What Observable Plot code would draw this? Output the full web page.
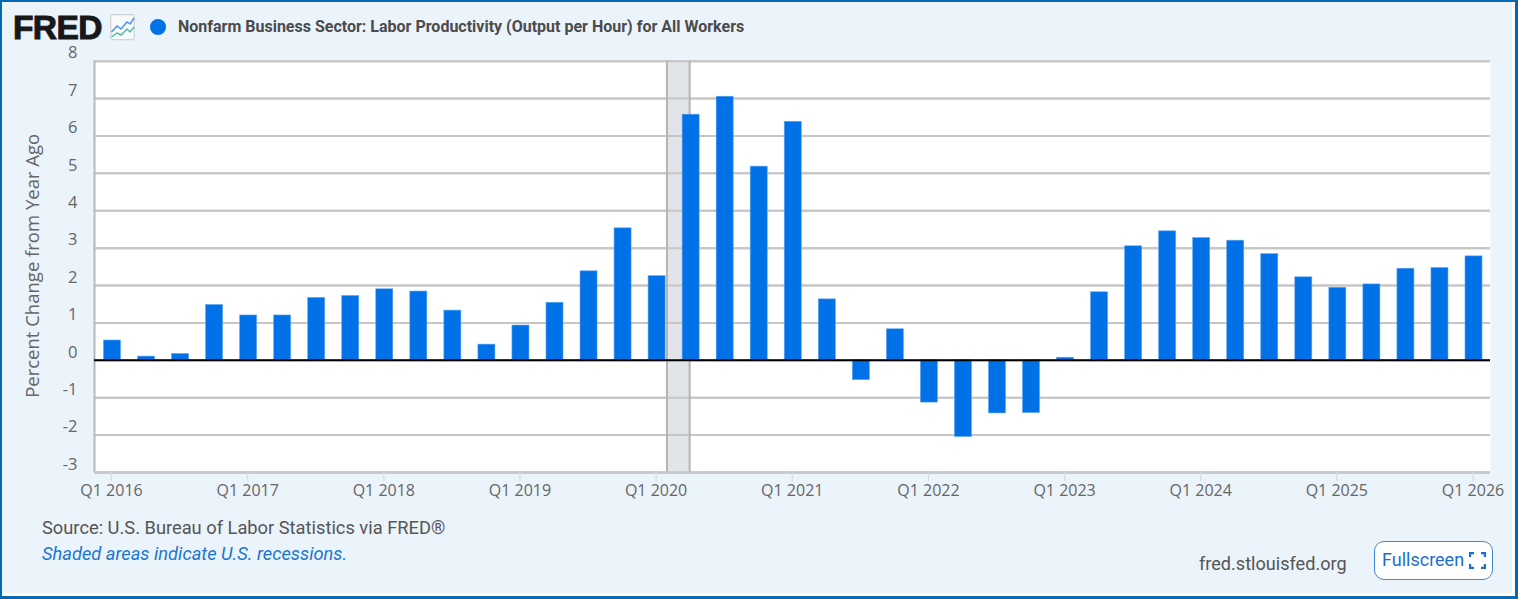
<!DOCTYPE html>
<html>
<head>
<meta charset="utf-8">
<script src="https://cdn.jsdelivr.net/npm/d3@7"></script>
<script src="https://cdn.jsdelivr.net/npm/@observablehq/plot@0.6"></script>
<style>
html,body{margin:0;padding:0;background:#fff;}
#page{position:relative;width:1518px;height:599px;box-sizing:border-box;overflow:hidden;background:#fff;border:solid #0467b4;border-width:2px 3px 3px 2px;}
#inner{position:absolute;left:0;top:0;width:1510px;height:591px;background:#ebf3fb;}
#chart{position:absolute;left:-2px;top:-2px;width:1518px;}
#chart svg{display:block;background:transparent;}
.abs{position:absolute;white-space:nowrap;}
</style>
</head>
<body>
<div id="page">
<div id="inner"></div>
<div id="chart"></div>
<div class="abs" id="logo" style="left:11px;top:13px;font:900 33.5px/26px 'Liberation Sans',Arial,sans-serif;color:#181818;letter-spacing:-.6px;-webkit-text-stroke:1px #181818;">FRED</div>
<svg class="abs" style="left:108px;top:12px" width="25" height="27" viewBox="0 0 25 27">
<rect x=".7" y=".7" width="23.6" height="25" rx="2" fill="#f7f9fb" stroke="#cfd3d6" stroke-width="1.2"/>
<path d="M1.5 18 L7 12 L11 15 L17 8 L20 10 L24 4" fill="none" stroke="#4d94e8" stroke-width="1.5"/>
<path d="M1.5 23 L7 19 L11 21 L17 15 L20 18 L24 13" fill="none" stroke="#58b9a8" stroke-width="1.5"/>
</svg>
<div class="abs" style="left:148px;top:16.5px;width:16px;height:16px;border-radius:50%;background:#0071e6;"></div>
<div class="abs" id="title" style="left:176px;top:15px;font:700 16px/20px Roboto,sans-serif;color:#4b4b4b;">Nonfarm Business Sector: Labor Productivity (Output per Hour) for All Workers</div>
<div class="abs" style="left:40px;top:516px;font:400 18.3px/20px Roboto,sans-serif;color:#555;">Source: U.S. Bureau of Labor Statistics via FRED®</div>
<div class="abs" style="left:40px;top:542px;font:italic 400 18.3px/20px Roboto,sans-serif;color:#1a76d2;">Shaded areas indicate U.S. recessions.</div>
<div class="abs" style="left:1197px;top:552px;font:400 18.1px/20px Roboto,sans-serif;color:#555;">fred.stlouisfed.org</div>
<div class="abs" style="left:1372px;top:539px;width:119px;height:39px;box-sizing:border-box;border:1.5px solid #3c87d8;border-radius:10px;background:#fff;"></div>
<div class="abs" style="left:1380px;top:548px;font:400 18px/20px Roboto,sans-serif;color:#1a6fd0;">Fullscreen</div>
<svg class="abs" style="left:1467px;top:550px" width="17" height="17" viewBox="0 0 17 17"><path d="M1 5V1H5M12 1H16V5M16 12V16H12M5 16H1V12" fill="none" stroke="#1a6fd0" stroke-width="2.4"/></svg>
</div>
<script>
const years = [2016,2017,2018,2019,2020,2021,2022,2023,2024,2025,2026];
const quarters = ["Q1","Q2","Q3","Q4"];
const values = [
  0.53,0.10,0.17,1.48,
  1.20,1.20,1.67,1.72,
  1.90,1.84,1.33,0.42,
  0.93,1.54,2.38,3.53,
  2.25,6.57,7.05,5.18,
  6.38,1.63,-0.53,0.83,
  -1.13,-2.05,-1.42,-1.41,
  0.07,1.82,3.05,3.45,
  3.27,3.20,2.84,2.22,
  1.94,2.03,2.45,2.47,
  2.78
];
const yTicks = [-3,-2,-1,0,1,2,3,4,5,6,7,8];
const recession = [{start:2020+1/12,end:2020.25}];
const yLabel = "Percent Change from Year Ago";
const blue = "#0071e6";
const grid = "#c6c6c6";
const rows = values.map((v,i)=>({t:years[0]+i/4,v}));

const L=94,R=1490,T=60.7,B=472;
const perYear=136.15, x0=112;
const chart = Plot.plot({
  width:1518,height:510,
  marginLeft:L,marginRight:1518-R,marginTop:T,marginBottom:510-B,
  style:{background:"transparent",overflow:"visible",maxWidth:"none"},
  x:{type:"linear",domain:[2016-(x0-L)/perYear,2016+(R-x0)/perYear],axis:null},
  y:{type:"linear",domain:[-3,8],axis:null},
  marks:[
    Plot.frame({fill:"#fff",stroke:null}),
    Plot.ruleY(yTicks,{stroke:grid,strokeWidth:2}),
    Plot.rect(recession,{x1:"start",x2:"end",y1:-3,y2:8,fill:"#e1e5e9",dx:-1.5}),
    Plot.ruleY(yTicks,{stroke:grid,strokeWidth:2}),
    Plot.ruleX(recession.flatMap(d=>[d.start,d.end]),{y1:-3,y2:8,stroke:"#b4b4b4",strokeWidth:2,dx:-1.5}),
    Plot.ruleX([2016-(x0-L)/perYear],{y1:-3,y2:8,stroke:"#b8b8b8",strokeWidth:2}),
    Plot.ruleY([-3],{stroke:"#c4c8ce",strokeWidth:2}),
    Plot.rect(rows,{x1:d=>d.t-0.0625,x2:d=>d.t+0.0625,y1:0,y2:"v",fill:blue,stroke:"#5ea6f0",strokeWidth:0.6}),
    Plot.ruleY([0],{stroke:"#000",strokeWidth:2}),
    Plot.ruleX(years,{dx:-1,y1:-3,y2:d=>-3-9/37.39,stroke:"#d3dde9",strokeWidth:1.2,clip:false}),
    Plot.text(yTicks,{x:()=>2016-(x0-L)/perYear,y:d=>d,text:d=>String(d),dx:-17,dy:-8,textAnchor:"end",fontSize:16.5,fontFamily:"'Open Sans',sans-serif",fill:"#666",clip:false}),
    Plot.text(years,{x:d=>d,y:()=>-3,text:d=>"Q1 "+d,dx:-1,dy:18,fontSize:16,fontFamily:"'Open Sans',sans-serif",fill:"#666",clip:false}),
    Plot.text([yLabel],{x:()=>2016-(x0-L)/perYear,y:()=>2.5,dx:-61,dy:-1,rotate:-90,text:d=>d,fontSize:18.5,fontFamily:"'Open Sans',sans-serif",fill:"#666",clip:false})
  ]
});
document.getElementById("chart").appendChild(chart);
</script>
</body>
</html>
